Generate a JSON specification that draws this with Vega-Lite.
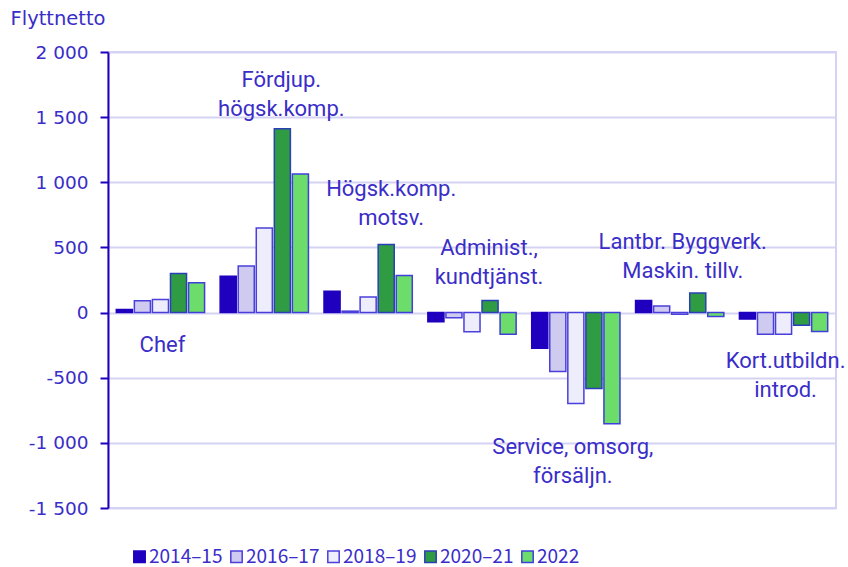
{
  "$schema": "https://vega.github.io/schema/vega-lite/v6.json",
  "width": 728,
  "height": 456,
  "autosize": {"type": "none"},
  "padding": {"left": 108, "top": 52, "right": 12, "bottom": 59},
  "background": "white",
  "config": {
    "locale": {"number": {"decimal": ",", "thousands": " ", "grouping": [3], "currency": ["", " kr"], "minus": "-"}},
    "view": {"stroke": "#d5d3f3", "strokeWidth": 2},
    "font": "DejaVu Sans"
  },
  "data": {
    "values": [
      {"grupp": "Chef", "period": "2014–15", "netto": 23},
      {"grupp": "Chef", "period": "2016–17", "netto": 90},
      {"grupp": "Chef", "period": "2018–19", "netto": 100},
      {"grupp": "Chef", "period": "2020–21", "netto": 299},
      {"grupp": "Chef", "period": "2022", "netto": 228},
      {"grupp": "Fördjup.", "period": "2014–15", "netto": 279},
      {"grupp": "Fördjup.", "period": "2016–17", "netto": 357},
      {"grupp": "Fördjup.", "period": "2018–19", "netto": 650},
      {"grupp": "Fördjup.", "period": "2020–21", "netto": 1410},
      {"grupp": "Fördjup.", "period": "2022", "netto": 1064},
      {"grupp": "Högsk.", "period": "2014–15", "netto": 163},
      {"grupp": "Högsk.", "period": "2016–17", "netto": 11},
      {"grupp": "Högsk.", "period": "2018–19", "netto": 120},
      {"grupp": "Högsk.", "period": "2020–21", "netto": 523},
      {"grupp": "Högsk.", "period": "2022", "netto": 285},
      {"grupp": "Administ.", "period": "2014–15", "netto": -70},
      {"grupp": "Administ.", "period": "2016–17", "netto": -40},
      {"grupp": "Administ.", "period": "2018–19", "netto": -148},
      {"grupp": "Administ.", "period": "2020–21", "netto": 93},
      {"grupp": "Administ.", "period": "2022", "netto": -167},
      {"grupp": "Service", "period": "2014–15", "netto": -274},
      {"grupp": "Service", "period": "2016–17", "netto": -453},
      {"grupp": "Service", "period": "2018–19", "netto": -697},
      {"grupp": "Service", "period": "2020–21", "netto": -582},
      {"grupp": "Service", "period": "2022", "netto": -853},
      {"grupp": "Lantbr.", "period": "2014–15", "netto": 93},
      {"grupp": "Lantbr.", "period": "2016–17", "netto": 50},
      {"grupp": "Lantbr.", "period": "2018–19", "netto": -12},
      {"grupp": "Lantbr.", "period": "2020–21", "netto": 150},
      {"grupp": "Lantbr.", "period": "2022", "netto": -30},
      {"grupp": "Kort.", "period": "2014–15", "netto": -50},
      {"grupp": "Kort.", "period": "2016–17", "netto": -167},
      {"grupp": "Kort.", "period": "2018–19", "netto": -167},
      {"grupp": "Kort.", "period": "2020–21", "netto": -97},
      {"grupp": "Kort.", "period": "2022", "netto": -146}
    ]
  },
  "encoding": {
    "x": {"field": "grupp", "type": "nominal", "sort": null,
      "scale": {"domain": ["Chef", "Fördjup.", "Högsk.", "Administ.", "Service", "Lantbr.", "Kort."], "paddingInner": 0.15, "paddingOuter": 0.08},
      "axis": null}
  },
  "layer": [
    {
      "mark": {"type": "bar", "strokeWidth": 1.5},
      "encoding": {
        "xOffset": {"field": "period", "type": "nominal", "sort": null, "scale": {"paddingInner": 0.11}},
        "y": {"field": "netto", "type": "quantitative",
          "scale": {"domain": [-1500, 2000], "nice": false, "zero": false},
          "axis": {
            "title": "Flyttnetto", "values": [-1500, -1000, -500, 0, 500, 1000, 1500, 2000], "format": ",d",
            "domainColor": "#1E00BE", "domainWidth": 2, "tickColor": "#1E00BE", "tickWidth": 2, "tickSize": 8,
            "labelPadding": 12, "labelFontSize": 18.5, "labelColor": "#3a2dc8", "labelFont": "DejaVu Sans",
            "gridColor": "#d5d3f3", "gridWidth": 2,
            "titleAngle": 0, "titleAlign": "left", "titleBaseline": "middle", "titleX": -98, "titleY": -34,
            "titleFontSize": 19.5, "titleFontWeight": "normal", "titleColor": "#3a2dc8", "titleFont": "DejaVu Sans"
          }},
        "stroke": {"field": "period", "type": "nominal", "sort": null,
          "scale": {"domain": ["2014–15", "2016–17", "2018–19", "2020–21", "2022"],
                    "range": ["#1E00BE", "#4b3fdb", "#4b3fdb", "#2a3fb8", "#3f3fdb"]},
          "legend": null},
        "color": {"field": "period", "type": "nominal", "sort": null,
          "scale": {"domain": ["2014–15", "2016–17", "2018–19", "2020–21", "2022"],
                    "range": ["#1E00BE", "#cfcaf0", "#ededfc", "#2f9b43", "#6cdd6a"]},
          "legend": {"orient": "none", "legendX": 22, "legendY": 495, "direction": "horizontal", "title": null,
            "symbolType": "square", "symbolSize": 130, "symbolStrokeWidth": 1.5, "symbolStrokeColor": "#4b3fdb",
            "labelFontSize": 19, "labelFont": "Noto Sans CJK JP", "labelColor": "#3a2dc8", "labelOffset": 0,
            "labelLimit": 200, "columnPadding": 4}}
      }
    },
    {
      "data": {"values": [{}]},
      "mark": {"type": "text", "text": "Chef", "font": "Roboto", "fontSize": 22, "color": "#3a2dc8", "dx": 2, "baseline": "middle"},
      "encoding": {"x": {"datum": "Chef"}, "y": {"datum": -248, "type": "quantitative"}}
    },
    {
      "data": {"values": [{}]},
      "mark": {"type": "text", "text": ["Fördjup.", "högsk.komp."], "lineHeight": 29, "font": "Roboto", "fontSize": 22, "color": "#3a2dc8", "dx": 17, "baseline": "middle"},
      "encoding": {"x": {"datum": "Fördjup."}, "y": {"datum": 1786, "type": "quantitative"}}
    },
    {
      "data": {"values": [{}]},
      "mark": {"type": "text", "text": ["Högsk.komp.", "motsv."], "lineHeight": 29, "font": "Roboto", "fontSize": 22, "color": "#3a2dc8", "dx": 23, "baseline": "middle"},
      "encoding": {"x": {"datum": "Högsk."}, "y": {"datum": 949, "type": "quantitative"}}
    },
    {
      "data": {"values": [{}]},
      "mark": {"type": "text", "text": ["Administ.,", "kundtjänst."], "lineHeight": 29, "font": "Roboto", "fontSize": 22, "color": "#3a2dc8", "dx": 17, "baseline": "middle"},
      "encoding": {"x": {"datum": "Administ."}, "y": {"datum": 497, "type": "quantitative"}}
    },
    {
      "data": {"values": [{}]},
      "mark": {"type": "text", "text": ["Service, omsorg,", "försäljn."], "lineHeight": 29, "font": "Roboto", "fontSize": 22, "color": "#3a2dc8", "dx": -3, "baseline": "middle"},
      "encoding": {"x": {"datum": "Service"}, "y": {"datum": -1031, "type": "quantitative"}}
    },
    {
      "data": {"values": [{}]},
      "mark": {"type": "text", "text": ["Lantbr. Byggverk.", "Maskin. tillv."], "lineHeight": 29, "font": "Roboto", "fontSize": 22, "color": "#3a2dc8", "dx": 3, "baseline": "middle"},
      "encoding": {"x": {"datum": "Lantbr."}, "y": {"datum": 543, "type": "quantitative"}}
    },
    {
      "data": {"values": [{}]},
      "mark": {"type": "text", "text": ["Kort.utbildn.", "introd."], "lineHeight": 29, "font": "Roboto", "fontSize": 22, "color": "#3a2dc8", "dx": 2, "baseline": "middle"},
      "encoding": {"x": {"datum": "Kort."}, "y": {"datum": -371, "type": "quantitative"}}
    }
  ]
}
